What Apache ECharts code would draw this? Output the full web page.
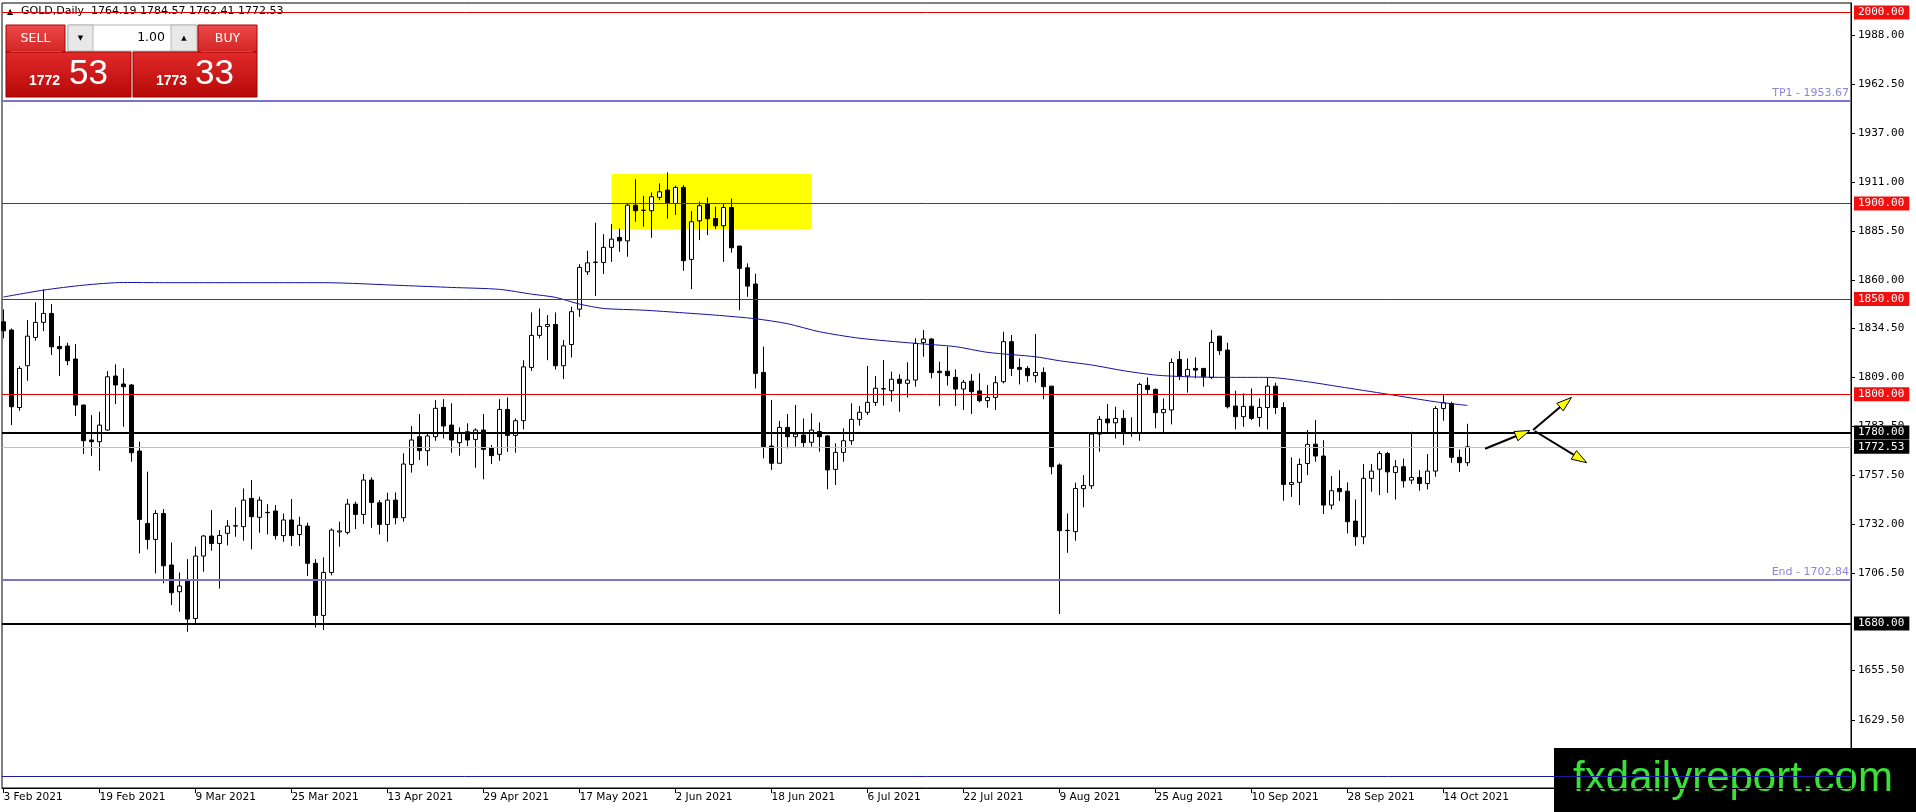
<!DOCTYPE html>
<html><head><meta charset="utf-8">
<script src="https://cdn.jsdelivr.net/npm/echarts@6/dist/echarts.min.js"></script>
<style>html,body{margin:0;padding:0;background:#fff;overflow:hidden}#c{width:1916px;height:812px}</style>
</head><body><div id="c"></div>
<script>
const symbolName = 'GOLD';
const timeframe = 'Daily';
const opens = [1838.0,1833.7,1793.1,1815.0,1829.8,1837.7,1842.4,1825.1,1825.3,1818.5,
1794.4,1776.1,1775.2,1781.3,1809.6,1805.4,1804.9,1770.3,1732.4,1724.0,
1737.6,1710.6,1696.6,1702.4,1682.6,1715.3,1725.8,1721.9,1727.2,1731.0,
1730.7,1745.5,1735.6,1738.2,1738.9,1726.0,1734.2,1726.6,1731.0,1711.5,
1684.2,1706.7,1727.9,1727.7,1742.5,1737.1,1755.1,1743.2,1731.9,1744.6,
1735.4,1763.3,1777.8,1770.5,1777.8,1793.2,1783.9,1774.7,1780.4,1776.4,
1781.3,1772.0,1768.6,1792.1,1778.5,1786.2,1814.1,1830.9,1835.6,1836.6,
1815.0,1826.1,1844.6,1864.2,1869.1,1869.1,1877.0,1882.2,1880.4,1899.1,
1896.5,1896.2,1903.2,1907.0,1900.0,1908.4,1870.7,1890.9,1899.7,1892.1,
1888.3,1897.9,1877.7,1866.3,1857.8,1811.5,1772.9,1763.9,1782.7,1777.8,
1778.7,1774.9,1780.5,1778.2,1760.7,1769.6,1775.7,1786.9,1790.6,1795.8,
1802.8,1801.9,1807.9,1805.8,1807.5,1827.1,1829.0,1812.1,1812.1,1808.9,
1802.8,1806.9,1801.8,1796.7,1798.4,1806.6,1827.6,1814.1,1813.6,1809.8,
1811.5,1804.3,1763.0,1728.6,1728.1,1750.6,1752.1,1779.2,1787.1,1785.1,
1787.4,1779.9,1779.6,1804.7,1802.6,1790.4,1791.8,1818.3,1809.6,1813.6,
1813.6,1808.9,1830.5,1823.2,1793.9,1788.3,1793.8,1787.9,1793.1,1804.3,
1793.1,1752.8,1753.9,1763.8,1773.9,1767.7,1742.0,1750.7,1749.3,1733.6,
1725.4,1756.0,1760.8,1769.0,1759.1,1762.1,1755.1,1756.5,1753.3,1759.8,
1792.6,1795.2,1767.0,1764.19];
const highs = [1844.5,1834.5,1814.8,1838.9,1848.2,1855.0,1847.3,1830.5,1827.0,1826.3,
1794.6,1789.1,1790.9,1812.2,1815.7,1813.6,1805.4,1775.2,1759.5,1739.4,
1739.9,1722.4,1706.7,1713.7,1720.2,1726.3,1739.4,1728.9,1734.1,1740.8,
1750.7,1755.1,1746.4,1742.5,1742.0,1737.6,1745.2,1735.9,1732.8,1713.7,
1714.6,1729.8,1733.3,1745.2,1743.8,1758.3,1756.5,1744.6,1748.5,1748.6,
1769.1,1783.4,1789.7,1779.6,1797.0,1797.5,1795.3,1782.7,1784.8,1782.2,
1789.7,1773.4,1797.5,1798.4,1787.4,1817.9,1842.9,1845.0,1841.5,1842.9,
1828.4,1845.9,1868.2,1875.2,1889.9,1883.9,1889.2,1886.9,1900.3,1912.7,
1904.0,1905.8,1910.5,1916.2,1909.3,1909.6,1896.0,1900.9,1903.1,1898.3,
1899.7,1902.6,1877.7,1868.6,1863.2,1825.0,1797.1,1786.1,1789.7,1794.4,
1787.4,1790.1,1785.3,1778.7,1774.3,1782.2,1795.3,1793.9,1814.9,1809.6,
1818.0,1811.9,1810.5,1816.8,1829.4,1833.7,1829.4,1817.1,1825.0,1813.1,
1807.5,1810.7,1811.0,1804.9,1809.6,1832.8,1831.1,1818.8,1814.8,1831.6,
1814.1,1804.3,1763.8,1737.6,1753.7,1757.7,1779.9,1788.6,1794.9,1793.5,
1791.8,1788.0,1806.1,1808.9,1803.1,1797.9,1818.8,1822.7,1818.8,1819.4,
1813.6,1833.7,1830.5,1827.0,1801.9,1800.5,1803.1,1797.9,1808.9,1806.1,
1795.8,1767.0,1766.4,1781.3,1786.5,1776.0,1757.2,1760.3,1753.9,1744.9,
1763.5,1763.5,1770.3,1769.9,1765.6,1766.4,1780.4,1760.3,1768.7,1793.8,
1799.6,1796.1,1771.1,1784.57];
const lows = [1829.3,1783.9,1791.4,1807.1,1828.1,1833.1,1820.6,1809.6,1815.3,1788.6,
1768.7,1767.8,1760.0,1780.9,1794.9,1783.0,1764.7,1716.7,1718.8,1706.2,
1701.0,1689.6,1686.1,1675.6,1680.0,1707.1,1718.1,1698.3,1720.9,1725.4,
1723.3,1718.8,1727.5,1726.6,1724.0,1722.8,1720.5,1720.5,1704.8,1677.8,
1676.5,1705.2,1720.2,1726.6,1729.4,1732.1,1730.1,1726.6,1722.8,1731.9,
1733.3,1759.0,1765.6,1762.6,1775.7,1776.9,1769.4,1767.9,1772.9,1761.6,
1755.5,1763.5,1765.2,1769.9,1769.4,1781.6,1812.3,1829.3,1817.9,1813.0,
1808.0,1819.3,1840.6,1862.5,1851.5,1863.0,1869.4,1874.7,1872.1,1890.4,
1887.8,1882.0,1901.7,1892.1,1893.9,1864.7,1855.1,1880.8,1883.4,1886.6,
1869.4,1874.2,1844.1,1851.1,1803.1,1766.5,1760.4,1763.9,1771.7,1772.6,
1772.3,1772.6,1770.0,1750.3,1752.5,1764.7,1773.5,1783.6,1789.2,1793.9,
1794.1,1796.2,1790.9,1798.3,1804.0,1819.7,1808.4,1793.9,1804.6,1793.9,
1791.8,1789.7,1795.8,1793.0,1791.8,1805.7,1809.6,1805.2,1806.6,1806.1,
1797.4,1758.1,1684.9,1717.0,1723.3,1740.8,1750.4,1770.0,1780.4,1776.9,
1773.4,1777.8,1775.7,1800.2,1782.2,1779.6,1784.3,1807.5,1800.9,1808.4,
1804.0,1808.0,1820.6,1792.6,1781.7,1783.0,1786.5,1783.0,1781.6,1789.7,
1744.3,1746.3,1742.0,1757.7,1764.7,1737.3,1739.7,1744.1,1727.1,1720.7,
1721.5,1749.0,1747.2,1748.4,1744.9,1751.2,1753.0,1749.5,1750.2,1756.8,
1786.2,1764.2,1759.4,1762.41];
const closes = [1833.3,1793.5,1813.6,1830.5,1837.7,1842.4,1824.9,1823.9,1817.6,1794.4,
1775.7,1775.2,1783.9,1809.2,1804.9,1804.0,1769.4,1734.5,1724.0,1737.6,
1710.2,1696.1,1699.6,1682.3,1715.3,1725.8,1721.9,1726.1,1731.0,1731.2,
1744.6,1735.9,1744.6,1738.0,1726.0,1734.2,1726.0,1731.4,1711.5,1684.2,
1706.7,1728.9,1728.5,1742.5,1737.1,1755.1,1743.4,1731.9,1744.6,1735.4,
1763.5,1776.1,1770.5,1778.2,1792.7,1783.4,1776.1,1779.9,1776.1,1781.3,
1771.2,1767.9,1792.1,1778.5,1786.2,1814.4,1830.9,1835.6,1836.6,1815.0,
1825.4,1843.3,1866.5,1868.9,1869.3,1877.0,1881.3,1880.4,1899.1,1896.2,
1896.3,1903.5,1906.1,1900.0,1908.4,1870.0,1890.4,1898.8,1892.0,1888.3,
1897.9,1876.8,1866.0,1856.7,1811.0,1772.6,1763.9,1782.7,1777.8,1779.2,
1774.7,1781.3,1777.8,1760.4,1769.6,1775.7,1786.9,1790.6,1795.8,1803.2,
1803.0,1807.9,1805.8,1807.5,1826.7,1829.0,1811.4,1811.4,1809.8,1802.8,
1806.3,1801.4,1796.7,1798.4,1806.1,1827.6,1813.6,1813.1,1809.8,1811.5,
1804.0,1762.1,1728.6,1728.8,1750.7,1752.3,1779.2,1786.9,1785.1,1787.4,
1779.6,1779.8,1805.2,1802.6,1790.4,1792.1,1816.7,1809.6,1813.1,1812.7,
1809.2,1827.2,1822.9,1793.5,1788.3,1793.7,1787.4,1793.1,1804.3,1793.1,
1752.8,1753.8,1763.3,1773.8,1767.7,1742.0,1749.5,1749.0,1733.3,1725.4,
1756.0,1759.8,1769.0,1759.4,1762.1,1754.7,1756.5,1753.3,1759.8,1792.6,
1795.6,1767.0,1764.2,1772.53];

const dateTickLabels = ['3 Feb 2021','19 Feb 2021','9 Mar 2021','25 Mar 2021','13 Apr 2021','29 Apr 2021','17 May 2021','2 Jun 2021','18 Jun 2021','6 Jul 2021','22 Jul 2021','9 Aug 2021','25 Aug 2021','10 Sep 2021','28 Sep 2021','14 Oct 2021'];
const dateTickBars = [0,12,24,36,48,60,72,84,96,108,120,132,144,156,168,180];
const priceTicks = [1988,1962.5,1937,1911,1885.5,1860,1834.5,1809,1783.5,1757.5,1732,1706.5,1655.5,1629.5];

const maBars = [0,5,10,15,20,30,40,50,56,62,66,69,72,75,80,85,89,94,98,102,107,114,119,123,129,132,136,140,144,148,153,158,163,167,173,179,183];
const maValues = [1851.0,1854.6,1857.2,1858.6,1858.5,1858.5,1858.5,1857.0,1856.0,1855.0,1852.5,1850.8,1847.3,1845.0,1844.1,1842.7,1841.5,1839.6,1837.0,1832.8,1829.4,1826.7,1825.0,1822.0,1819.7,1817.6,1815.4,1812.4,1810.1,1809.2,1808.9,1808.9,1806.6,1804.0,1800.1,1796.1,1794.2];

const redLevels = [2000, 1900, 1850, 1800];
const blackLevels = [1780, 1680];
const bidPrice = 1772.53;
const askPrice = 1773.33;
const tp1Level = 1953.67;
const endLevel = 1702.84;
const lowerLevel = 1600;
const boxBars = [76, 101];
const boxPrices = [1915.4, 1886.6];
const arrowSegments = [
  [185.2, 1771.5, 190.8, 1781.1],
  [191.2, 1781.3, 196.0, 1798.4],
  [191.4, 1780.8, 197.9, 1764.2]
];

const n = opens.length;
const candleData = opens.map((o, i) => [i, o, closes[i], lows[i], highs[i]]);
const maData = maBars.map((b, i) => [b, maValues[i]]);
const labelByBar = {};
dateTickBars.forEach((b, i) => { labelByBar[b] = dateTickLabels[i]; });

const tagLabel = (bg) => ({
  show: true, position: 'end', distance: 3,
  formatter: p => p.value.toFixed(2),
  backgroundColor: bg, color: '#fff',
  fontFamily: 'DejaVu Sans Mono', fontSize: 11, lineHeight: 12,
  padding: [1, 5, 1, 4]
});
const noLabel = { show: false };

const levelLines = [];
redLevels.forEach(v => levelLines.push({ yAxis: v, lineStyle: { color: '#e00000', width: 1, type: 'solid' }, label: tagLabel('#f01010') }));
blackLevels.forEach(v => levelLines.push({ yAxis: v, lineStyle: { color: '#000', width: 2, type: 'solid' }, label: tagLabel('#000') }));
levelLines.push({ yAxis: bidPrice, lineStyle: { color: '#c0c0c0', width: 1, type: 'solid' }, label: tagLabel('#000') });
levelLines.push({ yAxis: tp1Level, lineStyle: { color: '#7a72cc', width: 2, type: 'solid' },
  label: { show: true, position: 'insideEndTop', distance: 2, formatter: 'TP1 - ' + tp1Level.toFixed(2), color: '#8a86da', fontFamily: 'DejaVu Sans', fontSize: 11 } });
levelLines.push({ yAxis: endLevel, lineStyle: { color: '#7a72cc', width: 2, type: 'solid' },
  label: { show: true, position: 'insideEndTop', distance: 2, formatter: 'End - ' + endLevel.toFixed(2), color: '#8a86da', fontFamily: 'DejaVu Sans', fontSize: 11 } });
levelLines.push({ yAxis: lowerLevel, lineStyle: { color: '#1a1aa0', width: 1, type: 'solid' }, label: noLabel });

const redGrad = (a, b) => ({ type: 'linear', x: 0, y: 0, x2: 0, y2: 1, colorStops: [{ offset: 0, color: a }, { offset: 1, color: b }] });
const last = n - 1;
const headerText = symbolName + ',' + timeframe + '  ' + opens[last].toFixed(2) + ' ' + highs[last].toFixed(2) + ' ' + lows[last].toFixed(2) + ' ' + closes[last].toFixed(2);
const bidStr = bidPrice.toFixed(2), askStr = askPrice.toFixed(2);

const chart = echarts.init(document.getElementById('c'), null, { renderer: 'canvas' });
chart.setOption({
  animation: false,
  backgroundColor: '#fff',
  grid: { left: 2, right: 65, top: 3, bottom: 24, show: true, borderColor: '#000', borderWidth: 1, backgroundColor: '#fff' },
  xAxis: {
    type: 'value', min: -0.1875, max: 230.94,
    axisLine: { show: true, onZero: false, lineStyle: { color: '#000', width: 1 } },
    axisTick: { show: true, length: 5, customValues: dateTickBars, lineStyle: { color: '#000' } },
    axisLabel: { show: true, customValues: dateTickBars, formatter: v => labelByBar[v] || '', align: 'left', margin: 4,
      fontFamily: 'DejaVu Sans', fontSize: 10.6, color: '#000', showMinLabel: true, showMaxLabel: true },
    splitLine: { show: false }
  },
  yAxis: {
    type: 'value', position: 'right', min: 1593.8, max: 2005.0,
    axisLine: { show: true, onZero: false, lineStyle: { color: '#000', width: 1 } },
    axisTick: { show: true, length: 4, customValues: priceTicks, lineStyle: { color: '#000' } },
    axisLabel: { show: true, customValues: priceTicks, formatter: v => v.toFixed(2), margin: 7,
      fontFamily: 'DejaVu Sans Mono', fontSize: 11, color: '#000' },
    splitLine: { show: false }
  },
  series: [
    { type: 'line', data: [], z: 1, silent: true,
      markArea: { silent: true, itemStyle: { color: '#ffff00', opacity: 1 },
        data: [[{ xAxis: boxBars[0], yAxis: boxPrices[0] }, { xAxis: boxBars[1], yAxis: boxPrices[1] }]] } },
    { type: 'candlestick', data: candleData, encode: { x: 0, y: [1, 2, 3, 4] }, z: 2, barWidth: 5, silent: true,
      itemStyle: { color: '#ffffff', color0: '#000000', borderColor: '#000000', borderColor0: '#000000', borderWidth: 1 } },
    { type: 'line', data: maData, z: 3, showSymbol: false, silent: true, smooth: 0.25,
      lineStyle: { color: '#1010a0', width: 1 } },
    { type: 'line', data: [], z: 4, silent: true,
      markLine: { silent: true, symbol: ['none', 'none'], animation: false, data: levelLines } },
    { type: 'custom', z: 6, silent: true, clip: false, data: arrowSegments, encode: { x: [0, 2], y: [1, 3] },
      renderItem(params, api) {
        const p1 = api.coord([api.value(0), api.value(1)]);
        const p2 = api.coord([api.value(2), api.value(3)]);
        const dx = p2[0] - p1[0], dy = p2[1] - p1[1], len = Math.hypot(dx, dy);
        const ux = dx / len, uy = dy / len, hl = 15, hw = 5;
        const bx = p2[0] - ux * hl, by = p2[1] - uy * hl;
        return { type: 'group', children: [
          { type: 'line', shape: { x1: p1[0], y1: p1[1], x2: p2[0] - ux * 4, y2: p2[1] - uy * 4 }, style: { stroke: '#000', lineWidth: 2 } },
          { type: 'polygon', shape: { points: [[p2[0], p2[1]], [bx - uy * hw, by + ux * hw], [bx + uy * hw, by - ux * hw]] },
            style: { fill: '#ffff00', stroke: '#000', lineWidth: 1 } }
        ] };
      } }
  ],
  graphic: [
    { type: 'text', left: 7, top: 8, z: 0, style: { text: '▲', font: '8px "DejaVu Sans"', fill: '#000' } },
    { type: 'text', left: 21, top: 6, z: 0, style: { text: headerText, font: '11px "DejaVu Sans"', fill: '#000' } },
    { type: 'group', z: 50, children: [
      { type: 'rect', shape: { x: 6, y: 25, width: 59, height: 27 }, style: { fill: redGrad('#ec4a4a', '#d42424'), stroke: '#a80000' } },
      { type: 'line', shape: { x1: 10, y1: 51.5, x2: 62, y2: 51.5 }, style: { stroke: '#f29a9a', lineWidth: 1 } },
      { type: 'text', x: 35.5, y: 39, style: { text: 'SELL', font: '12.5px "DejaVu Sans"', fill: '#fff', align: 'center', verticalAlign: 'middle' } },
      { type: 'rect', shape: { x: 68, y: 25, width: 129, height: 26 }, style: { fill: '#fff', stroke: '#b4b4b4' } },
      { type: 'rect', shape: { x: 68, y: 25, width: 25, height: 26 }, style: { fill: '#e8e8e8', stroke: '#b4b4b4' } },
      { type: 'rect', shape: { x: 171, y: 25, width: 26, height: 26 }, style: { fill: '#e8e8e8', stroke: '#b4b4b4' } },
      { type: 'text', x: 80.5, y: 38, style: { text: '▼', font: '7px "DejaVu Sans"', fill: '#000', align: 'center', verticalAlign: 'middle' } },
      { type: 'text', x: 184, y: 38, style: { text: '▲', font: '7px "DejaVu Sans"', fill: '#000', align: 'center', verticalAlign: 'middle' } },
      { type: 'text', x: 165, y: 38, style: { text: '1.00', font: '12.5px "DejaVu Sans"', fill: '#000', align: 'right', verticalAlign: 'middle' } },
      { type: 'rect', shape: { x: 198, y: 25, width: 59, height: 27 }, style: { fill: redGrad('#ec4a4a', '#d42424'), stroke: '#a80000' } },
      { type: 'line', shape: { x1: 201, y1: 51.5, x2: 253, y2: 51.5 }, style: { stroke: '#f29a9a', lineWidth: 1 } },
      { type: 'text', x: 227.5, y: 39, style: { text: 'BUY', font: '12.5px "DejaVu Sans"', fill: '#fff', align: 'center', verticalAlign: 'middle' } },
      { type: 'rect', shape: { x: 6, y: 52, width: 125, height: 45 }, style: { fill: redGrad('#e22a2a', '#b50808'), stroke: '#9a0000' } },
      { type: 'rect', shape: { x: 133, y: 52, width: 124, height: 45 }, style: { fill: redGrad('#e22a2a', '#b50808'), stroke: '#9a0000' } },
      { type: 'text', x: 29, y: 88, style: { text: bidStr.slice(0, 4), font: 'bold 14px "Liberation Sans"', fill: '#fff', verticalAlign: 'bottom' } },
      { type: 'text', x: 69, y: 92, style: { text: bidStr.slice(5, 7), font: '35px "Liberation Sans"', fill: '#fff', verticalAlign: 'bottom' } },
      { type: 'text', x: 156, y: 88, style: { text: askStr.slice(0, 4), font: 'bold 14px "Liberation Sans"', fill: '#fff', verticalAlign: 'bottom' } },
      { type: 'text', x: 195, y: 92, style: { text: askStr.slice(5, 7), font: '35px "Liberation Sans"', fill: '#fff', verticalAlign: 'bottom' } }
    ] },
    { type: 'group', z: 100, children: [
      { type: 'rect', shape: { x: 1554, y: 748, width: 362, height: 64 }, style: { fill: '#000' } },
      { type: 'text', x: 1733, y: 779, style: { text: 'fxdailyreport.com', font: '42px "Liberation Sans"', fill: '#38e038', align: 'center', verticalAlign: 'middle' } }
    ] }
  ]
});
</script></body></html>
